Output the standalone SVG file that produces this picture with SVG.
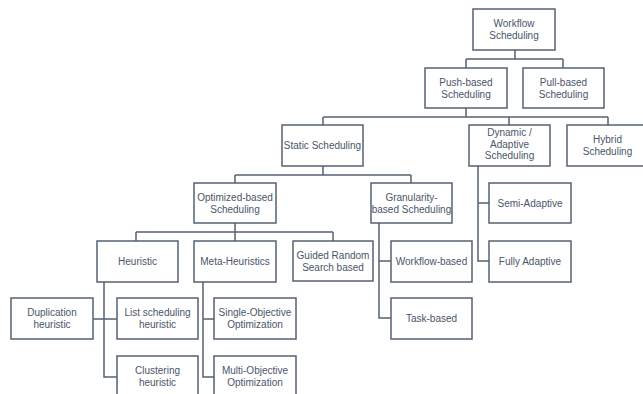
<svg xmlns="http://www.w3.org/2000/svg" width="643" height="394" viewBox="0 0 643 394">
  <style>
    .box rect { fill: #ffffff; stroke: #566173; stroke-width: 1.5; }
    .box text { font-family: "Liberation Sans", Arial, sans-serif; font-size: 10px; fill: #4a5568; text-anchor: middle; }
    #connectors path { fill: none; stroke: #566173; stroke-width: 1.5; }
  </style>
  <rect width="643" height="394" fill="#ffffff"/>

  <!-- tree connectors (elbow lines) -->
  <g id="connectors">
    <path d="M515 50 V59 M466 59 H563 M466 59 V68 M563 59 V68"/>
    <path d="M466 108 V117 M323 117 H608 M323 117 V125 M509 117 V125 M608 117 V125"/>
    <path d="M323 166 V175 M235 175 H411 M235 175 V183 M411 175 V183"/>
    <path d="M235 223 V232 M136 232 H333 M136 232 V241 M235 232 V241 M333 232 V241"/>
    <path d="M104 282 V377 H117 M93 319 H117"/>
    <path d="M203 282 V377 H214 M203 319 H214"/>
    <path d="M379 223 V318 H391 M379 261 H391"/>
    <path d="M478 166 V261 H489 M478 203 H489"/>
  </g>

  <g id="workflow-scheduling" class="box">
    <rect x="473" y="9" width="82" height="41"/>
    <text x="514" y="27">Workflow</text>
    <text x="514" y="39">Scheduling</text>
  </g>
  <g id="push-based" class="box">
    <rect x="425" y="68" width="82" height="40"/>
    <text x="466" y="86">Push-based</text>
    <text x="466" y="98">Scheduling</text>
  </g>
  <g id="pull-based" class="box">
    <rect x="523" y="68" width="81" height="40"/>
    <text x="563.5" y="86">Pull-based</text>
    <text x="563.5" y="98">Scheduling</text>
  </g>
  <g id="static" class="box">
    <rect x="282" y="125" width="81" height="41"/>
    <text x="322.5" y="149">Static Scheduling</text>
  </g>
  <g id="dynamic" class="box">
    <rect x="469" y="125" width="81" height="41"/>
    <text x="509.5" y="136">Dynamic /</text>
    <text x="509.5" y="147.5">Adaptive</text>
    <text x="509.5" y="159">Scheduling</text>
  </g>
  <g id="hybrid" class="box">
    <rect x="567" y="125" width="82" height="41"/>
    <text x="607.5" y="143">Hybrid</text>
    <text x="607.5" y="155">Scheduling</text>
  </g>
  <g id="optimized" class="box">
    <rect x="194" y="183" width="82" height="40"/>
    <text x="235" y="201">Optimized-based</text>
    <text x="235" y="213">Scheduling</text>
  </g>
  <g id="granularity" class="box">
    <rect x="371" y="183" width="81" height="40"/>
    <text x="411.5" y="201">Granularity-</text>
    <text x="411.5" y="213">based Scheduling</text>
  </g>
  <g id="semi-adaptive" class="box">
    <rect x="489" y="183" width="82" height="40"/>
    <text x="530" y="206.5">Semi-Adaptive</text>
  </g>
  <g id="heuristic" class="box">
    <rect x="97" y="241" width="81" height="41"/>
    <text x="137.5" y="265">Heuristic</text>
  </g>
  <g id="meta-heuristics" class="box">
    <rect x="194" y="241" width="82" height="41"/>
    <text x="235" y="265">Meta-Heuristics</text>
  </g>
  <g id="guided-random" class="box">
    <rect x="293" y="241" width="80" height="40"/>
    <text x="333" y="259">Guided Random</text>
    <text x="333" y="271">Search based</text>
  </g>
  <g id="workflow-based" class="box">
    <rect x="391" y="241" width="81" height="41"/>
    <text x="431.5" y="265">Workflow-based</text>
  </g>
  <g id="fully-adaptive" class="box">
    <rect x="489" y="241" width="82" height="41"/>
    <text x="530" y="265">Fully Adaptive</text>
  </g>
  <g id="duplication" class="box">
    <rect x="11" y="298" width="82" height="41"/>
    <text x="52" y="316">Duplication</text>
    <text x="52" y="328">heuristic</text>
  </g>
  <g id="list-scheduling" class="box">
    <rect x="117" y="298" width="81" height="41"/>
    <text x="157.5" y="316">List scheduling</text>
    <text x="157.5" y="328">heuristic</text>
  </g>
  <g id="single-objective" class="box">
    <rect x="214" y="298" width="82" height="41"/>
    <text x="255" y="316">Single-Objective</text>
    <text x="255" y="328">Optimization</text>
  </g>
  <g id="task-based" class="box">
    <rect x="391" y="298" width="81" height="41"/>
    <text x="431.5" y="322">Task-based</text>
  </g>
  <g id="clustering" class="box">
    <rect x="117" y="356" width="81" height="41"/>
    <text x="157.5" y="374">Clustering</text>
    <text x="157.5" y="386">heuristic</text>
  </g>
  <g id="multi-objective" class="box">
    <rect x="214" y="356" width="82" height="41"/>
    <text x="255" y="374">Multi-Objective</text>
    <text x="255" y="386">Optimization</text>
  </g>
</svg>
